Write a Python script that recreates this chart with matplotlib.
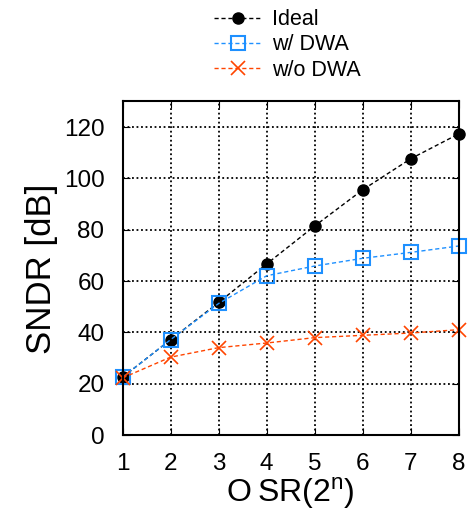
import matplotlib
matplotlib.use("Agg")
import matplotlib.pyplot as plt

plt.rcParams['font.family'] = ['Liberation Sans', 'DejaVu Sans']

osr = [1, 2, 3, 4, 5, 6, 7, 8]
ideal = [22.6, 37.2, 51.7, 66.7, 81.5, 95.6, 107.7, 117.4]
w_dwa = [22.6, 37.2, 51.3, 62.1, 65.9, 68.9, 71.2, 73.7]
wo_dwa = [22.3, 30.4, 34.1, 35.9, 38.0, 38.9, 39.8, 41.1]

fig = plt.figure(figsize=(4.75, 5.15), dpi=100)
ax = fig.add_axes([0.258, 0.155, 0.708, 0.648])

l1, = ax.plot(osr, ideal, "--", color="black", marker="o", markersize=8, linewidth=1, dashes=(3, 2), clip_on=False)
l2, = ax.plot(osr, w_dwa, "--", color="#1E90FF", marker="s", markersize=10, markerfacecolor="none", markeredgewidth=1.5, linewidth=1, dashes=(3, 2), clip_on=False)
l3, = ax.plot(osr, wo_dwa, "--", color="#FF4500", marker="x", markersize=10, markeredgewidth=1.2, linewidth=1, dashes=(3, 2), clip_on=False)

ax.set_xlim(1, 8)
ax.set_ylim(0, 130)
ax.set_xticks(osr)
ax.set_yticks([0, 20, 40, 60, 80, 100, 120])
ax.grid(True, color="black", linestyle=(0, (1, 1.5)), linewidth=1.3)
ax.tick_params(direction="in", labelsize=17.5, length=5, top=True, right=True, pad=13)
for s in ax.spines.values():
    s.set_linewidth(1.5)

ax.set_ylabel("SNDR [dB]", fontsize=25, labelpad=4)
ax.set_xlabel("O\u2009SR(2$^\\mathregular{n}$)", fontsize=23, labelpad=0)

fig.legend([l1, l2, l3], ["Ideal", "w/ DWA", "w/o DWA"], loc="upper left", bbox_to_anchor=(0.41, 1.02), frameon=False, fontsize=15.5, handlelength=2.2, handletextpad=0.5, labelspacing=0.2)

plt.savefig("out.png", dpi=100)
